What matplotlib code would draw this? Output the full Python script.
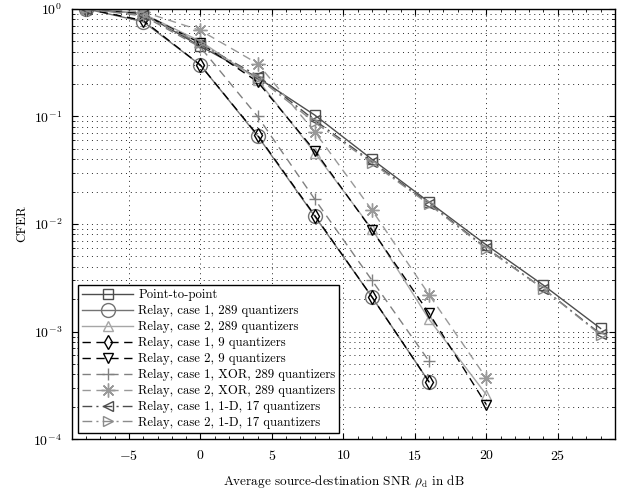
import matplotlib
matplotlib.use("Agg")
import matplotlib.pyplot as plt
import numpy as np
from matplotlib.ticker import LogLocator, MultipleLocator, NullFormatter

plt.rcParams["font.family"] = ["cmr10", "DejaVu Serif"]
plt.rcParams["mathtext.fontset"] = "cm"
plt.rcParams["axes.formatter.use_mathtext"] = True
plt.rcParams["font.size"] = 9.5

snr = np.array([-8, -4, 0, 4, 8, 12, 16, 20, 24, 28])

p2p = [1.0, 0.9, 0.45, 0.23, 0.103, 0.040, 0.016, 0.0064, 0.0027, 0.00107]
c1_289 = [1.0, 0.76, 0.30, 0.066, 0.0118, 0.0021, 0.00034]
c2_289 = [1.0, 0.9, 0.50, 0.22, 0.046, 0.0090, 0.0013, 0.00026]
c1_9 = [1.0, 0.78, 0.30, 0.067, 0.0120, 0.0021, 0.00034]
c2_9 = [1.0, 0.9, 0.48, 0.21, 0.048, 0.0088, 0.00148, 0.00021]
c1_xor = [1.0, 0.86, 0.44, 0.10, 0.017, 0.0030, 0.00053]
c2_xor = [1.0, 0.94, 0.63, 0.31, 0.072, 0.0135, 0.0022, 0.00037]
c1_1d = [1.0, 0.88, 0.47, 0.24, 0.092, 0.038, 0.0155, 0.0060, 0.0025, 0.00095]
c2_1d = [1.0, 0.87, 0.48, 0.23, 0.088, 0.037, 0.0152, 0.0059, 0.0025, 0.00093]

dash = (0, (6, 4))
dashdot = (0, (7, 3, 1.5, 3))
star = (8, 2, 0)

series = [
    (p2p, "Point-to-point", "s", "-", "0.3", 7),
    (c1_289, "Relay, case 1, 289 quantizers", "o", "-", "0.45", 10),
    (c2_289, "Relay, case 2, 289 quantizers", "^", "-", "0.65", 7),
    (c1_9, "Relay, case 1, 9 quantizers", "d", dash, "0.0", 7),
    (c2_9, "Relay, case 2, 9 quantizers", "v", dash, "0.0", 7),
    (c1_xor, "Relay, case 1, XOR, 289 quantizers", "+", dash, "0.5", 8),
    (c2_xor, "Relay, case 2, XOR, 289 quantizers", star, dash, "0.6", 10),
    (c1_1d, "Relay, case 1, 1-D, 17 quantizers", "<", dashdot, "0.3", 7),
    (c2_1d, "Relay, case 2, 1-D, 17 quantizers", ">", dashdot, "0.55", 7),
]

fig = plt.figure(figsize=(6.3, 4.94), dpi=100)
ax = fig.add_axes([0.114, 0.111, 0.862, 0.871])

for vals, label, mk, ls, col, ms in series:
    ax.semilogy(snr[:len(vals)], vals, linestyle=ls, color=col, marker=mk,
                markersize=ms, markerfacecolor="none", markeredgecolor=col,
                markeredgewidth=1.0, linewidth=1.0, label=label)

ax.set_xlim(-9, 29)
ax.set_ylim(1e-4, 1)
ax.xaxis.set_major_locator(MultipleLocator(5))
ax.xaxis.set_minor_locator(MultipleLocator(1))
ax.yaxis.set_major_locator(LogLocator(base=10))
ax.yaxis.set_minor_locator(LogLocator(base=10, subs=np.arange(2, 10)))
ax.yaxis.set_minor_formatter(NullFormatter())
ax.tick_params(which="both", direction="in", top=True, right=True, labelsize=10)
ax.tick_params(which="major", length=4, pad=7)
ax.tick_params(which="minor", length=2)
ax.grid(True, which="major", axis="both", linestyle=(0, (1, 4)), color="0.15", linewidth=0.7)
ax.grid(True, which="minor", axis="y", linestyle=(0, (1, 4)), color="0.15", linewidth=0.7)
for s in ax.spines.values():
    s.set_linewidth(1.0)

ax.set_xlabel(r"Average source-destination SNR $\rho_{\rm d}$ in dB", labelpad=7)
ax.set_ylabel("CFER", labelpad=4)

leg = ax.legend(loc="lower left", fontsize=9.2, handlelength=4.0, fancybox=False,
                framealpha=1, edgecolor="black", borderaxespad=0.5,
                labelspacing=0.3, borderpad=0.3, handletextpad=0.4)
leg.get_frame().set_linewidth(1.0)

fig.savefig("out.png", dpi=100)
